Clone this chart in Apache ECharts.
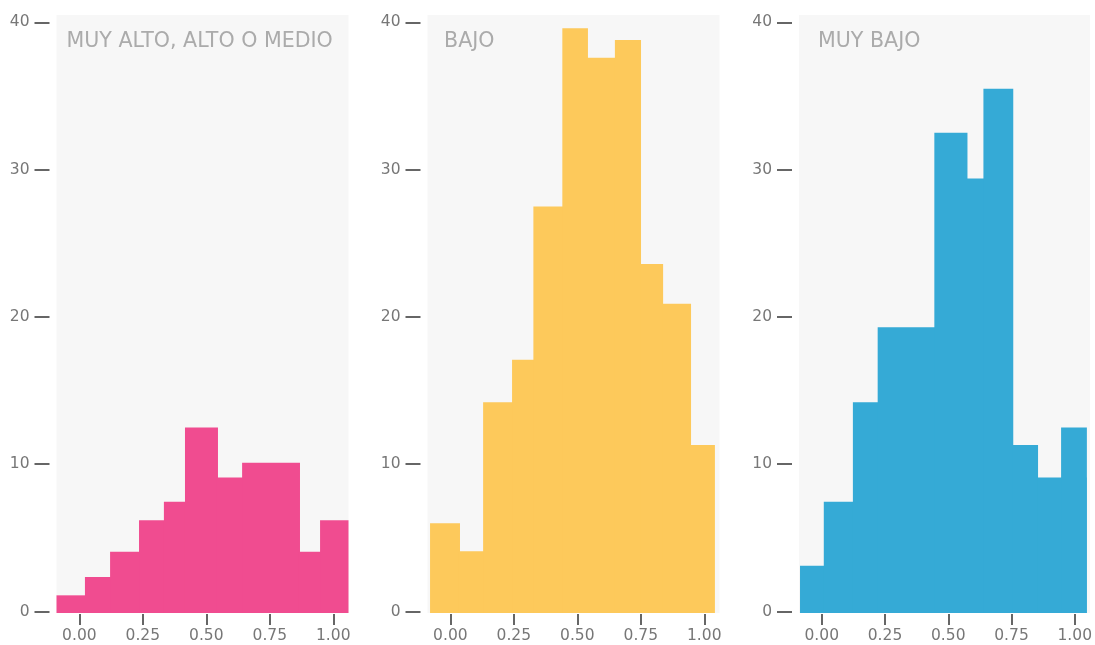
<!DOCTYPE html>
<html>
<head>
<meta charset="utf-8">
<script src="https://cdn.jsdelivr.net/npm/echarts@6/dist/echarts.min.js"></script>
<style>
  html, body { margin: 0; padding: 0; background: #fff; }
  #chart { width: 1095px; height: 645px; }
</style>
</head>
<body>
<div id="chart"></div>
<script>
// paneles
var panelNames = ['MUY ALTO, ALTO O MEDIO', 'BAJO', 'MUY BAJO'];
var panelColors = ['#f04c90', '#fdc95b', '#35aad6'];

// bordes de los intervalos (x) y alturas de cada barra
var edgesAlto = [-0.09, 0.022, 0.121, 0.235, 0.333, 0.416, 0.542, 0.641, 0.865, 0.948, 1.06];
var countsAlto = [1.1, 2.35, 4.05, 6.2, 7.45, 12.5, 9.1, 10.1, 4.05, 6.2];

var edgesBajo = [-0.08, 0.034, 0.129, 0.243, 0.327, 0.441, 0.538, 0.648, 0.747, 0.834, 0.944, 1.042];
var countsBajo = [6.0, 4.1, 14.2, 17.1, 27.5, 39.6, 37.6, 38.8, 23.6, 20.9, 11.3];

var edgesMuyBajo = [-0.086, 0.008, 0.123, 0.221, 0.445, 0.572, 0.639, 0.753, 0.851, 0.946, 1.044, 1.047];
var countsMuyBajo = [3.1, 7.45, 14.2, 19.3, 32.5, 29.4, 35.5, 11.3, 9.1, 12.5, 9.1];

var xTicks = [0, 0.25, 0.5, 0.75, 1];
var yTicks = [0, 10, 20, 30, 40];

var X_MIN = -0.09, X_MAX = 1.06;
var Y_MIN = -0.1, Y_MAX = 40.5;

var gridLefts = [56.5, 427.5, 799];
var titleLefts = [66.5, 444, 818];

function toBins(edges, counts) {
    var out = [];
    for (var i = 0; i < counts.length; i++) {
        out.push([edges[i], edges[i + 1], counts[i]]);
    }
    return out;
}

var panelData = [
    toBins(edgesAlto, countsAlto),
    toBins(edgesBajo, countsBajo),
    toBins(edgesMuyBajo, countsMuyBajo)
];

var labelFont = 'DejaVu Sans';

var grids = [], xAxes = [], yAxes = [], series = [], titles = [];

for (var i = 0; i < 3; i++) {
    grids.push({
        left: gridLefts[i],
        top: 15,
        width: 292,
        height: 598,
        show: true,
        backgroundColor: '#f7f7f7',
        borderWidth: 0
    });
    xAxes.push({
        type: 'value',
        gridIndex: i,
        min: X_MIN,
        max: X_MAX,
        offset: 1,
        axisLine: { show: false, onZero: false },
        splitLine: { show: false },
        axisTick: {
            show: true,
            length: 11,
            customValues: xTicks,
            lineStyle: { color: '#666', width: 2 }
        },
        axisLabel: {
            customValues: xTicks,
            margin: 14,
            color: '#777',
            fontFamily: labelFont,
            fontSize: 15.5,
            formatter: function(v) { return v.toFixed(2); }
        }
    });
    yAxes.push({
        type: 'value',
        gridIndex: i,
        min: Y_MIN,
        max: Y_MAX,
        offset: 7,
        axisLine: { show: false, onZero: false },
        splitLine: { show: false },
        axisTick: {
            show: true,
            length: 15,
            customValues: yTicks,
            lineStyle: { color: '#666', width: 2 }
        },
        axisLabel: {
            customValues: yTicks,
            margin: 20,
            color: '#777',
            fontFamily: labelFont,
            fontSize: 15.5
        }
    });
    titles.push({
        text: panelNames[i],
        left: titleLefts[i],
        top: 31,
        padding: 0,
        textStyle: {
            color: '#ababab',
            fontFamily: labelFont,
            fontWeight: 'normal',
            fontSize: 20.6
        }
    });
    (function(color, n) {
        series.push({
            type: 'custom',
            xAxisIndex: i,
            yAxisIndex: i,
            encode: { x: [0, 1], y: 2 },
            silent: true,
            renderItem: function(params, api) {
                var p0 = api.coord([api.value(0), api.value(2)]);
                var p1 = api.coord([api.value(1), Y_MIN]);
                // solapar 1px con la barra siguiente para que no se vea la junta
                var extra = params.dataIndex < n - 1 ? 1 : 0;
                return {
                    type: 'rect',
                    shape: { x: p0[0], y: p0[1], width: p1[0] - p0[0] + extra, height: p1[1] - p0[1] },
                    style: { fill: color }
                };
            },
            data: panelData[i]
        });
    })(panelColors[i], panelData[i].length);
}

var myChart = echarts.init(document.getElementById('chart'), null, { renderer: 'canvas' });
myChart.setOption({
    backgroundColor: '#ffffff',
    animation: false,
    title: titles,
    grid: grids,
    xAxis: xAxes,
    yAxis: yAxes,
    series: series
});
</script>
</body>
</html>
